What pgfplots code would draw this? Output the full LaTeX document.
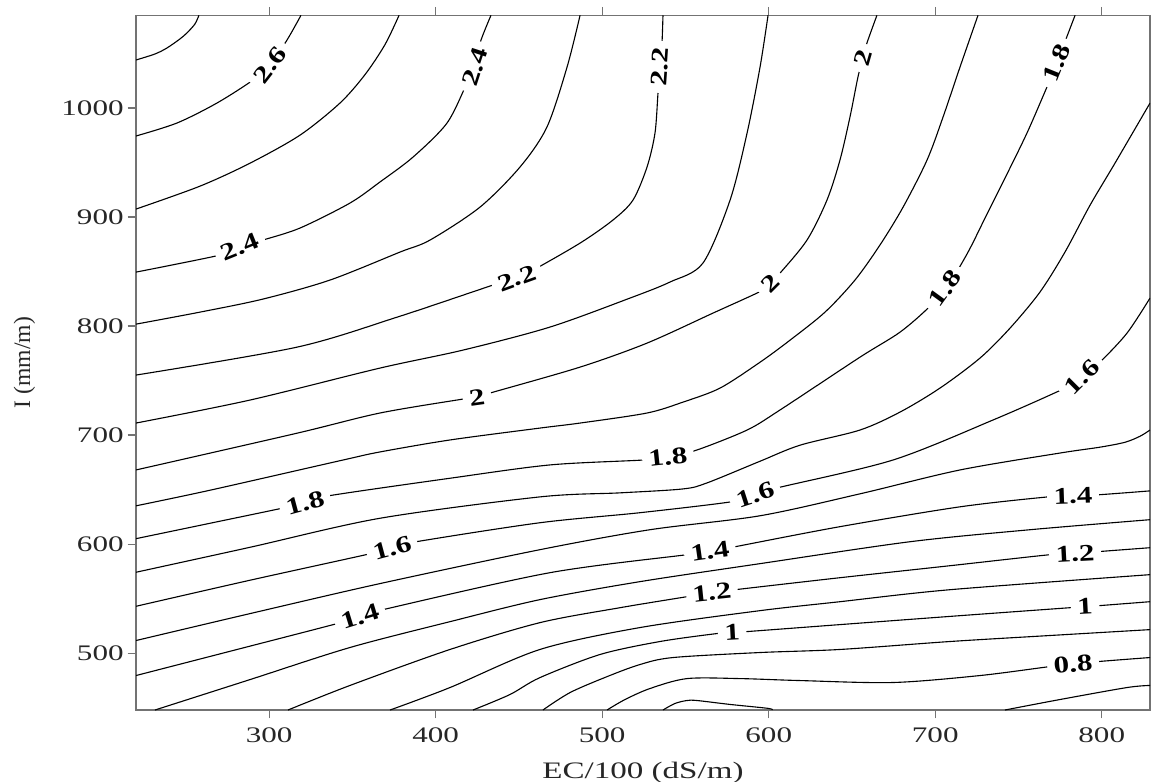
\documentclass[border=0pt]{standalone}
\usepackage{fontspec}
\setmainfont{Liberation Serif}
\usepackage{pgfplots}
\pgfplotsset{compat=1.18}
\definecolor{framegray}{RGB}{115,115,115}
\pgfplotsset{cl/.style={black, line width=0.4pt, smooth, tension=0.5, mark=none}}
\begin{document}
\begin{tikzpicture}
\useasboundingbox (-48.96pt,-25.56pt) rectangle (365.4pt,255.6pt);
\begin{axis}[
  at={(0pt,0pt)}, anchor=south west,
  scale only axis, width=365.04pt, height=250.1pt,
  xmin=220, xmax=829, ymin=448, ymax=1085,
  xtick={300,400,...,800}, ytick={500,600,...,1000},
  minor tick num=0,
  xtick pos=both, ytick pos=left, xticklabel pos=lower,
  tick align=outside, major tick length=3pt,
  axis line style={framegray, line width=0.5pt},
  tick style={framegray, line width=0.5pt},
  /pgf/number format/assume math mode=true,
  /pgf/number format/1000 sep={},
  scaled ticks=false,
  tick label style={font=\fontsize{8}{9}\selectfont, xscale=1.4, text=black!85},
  yticklabel style={xshift=2.5pt},
  xlabel={EC/100 (dS/m)}, ylabel={I (mm/m)},
  label style={font=\fontsize{8.5}{10}\selectfont, text=black!85},
  xlabel style={xscale=1.4},
  every axis y label/.style={at={(axis description cs:-0.11,0.5)}, rotate=90, anchor=center,
     font=\fontsize{8.5}{10}\selectfont, text=black!85},
  clip=true,
]
% 2.7
\addplot[cl] coordinates {(257.8,1085) (255.4,1077) (250.6,1068.8) (246.4,1063.3) (238.6,1055) (231.4,1049.5) (220,1044)};
% 2.6
\addplot[cl] coordinates {(319.1,1085) (310.7,1062.3) (300.5,1039.4) (290.3,1025.6) (268.6,1004.5) (244.6,986.2) (220,974.3)};
% 2.5
\addplot[cl] coordinates {(378,1085) (369.5,1058) (357.5,1030.5) (342.5,1004.5) (318.5,975.1) (288.5,949.4) (258.4,928.3) (220,907.3)};
% 2.4
\addplot[cl] coordinates {(433.2,1085) (426.6,1059.6) (423.6,1037.6) (418.8,1022.9) (406.8,986.2) (386.4,955) (366.5,932.1) (348.5,912.8) (318.5,889.9) (296.3,878.9) (282.5,872.4) (270.4,865.1) (220,849.5)};
% 2.3
\addplot[cl] coordinates {(486.7,1085) (478.9,1037.6) (466.8,982.5) (450.6,945.8) (426.6,909.1) (396.6,878.9) (378.6,867.9) (336.5,842.2) (296.3,824.8) (258.4,812.8) (220,801.8)};
% 2.2
\addplot[cl] coordinates {(536.5,1085) (535.9,1059.6) (534.7,1037.6) (533.5,1013.7) (531.7,977) (526.9,945.8) (518.5,915.6) (506.5,897.3) (486.7,876.1) (458.4,851.2) (448.8,844) (434.4,837.6) (376.8,808.2) (316.7,780.7) (220,755.1)};
% 2.1
\addplot[cl] coordinates {(599.6,1085) (594.8,1037.6) (587,977) (576.8,915.6) (560.5,857.8) (540.7,840.4) (516.7,825.7) (468.6,799.1) (416.4,778) (366.5,761.5) (288.5,732.2) (220,711.1)};
% 2.0
\addplot[cl] coordinates {(665,1085) (659,1059.6) (656.6,1045.8) (653.6,1028.4) (648.8,991.7) (642.8,952.3) (635,915.6) (623,878.9) (606.8,848.6) (600.8,839.4) (596.6,833) (566.5,811.9) (526.9,784.4) (486.7,762.4) (432.6,738.6) (424.8,734.9) (416.4,733.1) (366.5,720.3) (316.7,701.8) (220,668.1)};
% 1.9
\addplot[cl] coordinates {(725.7,1085) (714.9,1037.6) (704.7,991.7) (695.1,952.3) (680.7,909.1) (666.8,874.3) (651.8,842.2) (633.8,812.8) (612.8,787.1) (594.8,766.9) (570.8,743.2) (548.5,730.3) (526.9,720.3) (486.7,711.1) (462.6,706.5) (408.6,695.6) (366.5,684.6) (344.3,677.2) (264.4,649.5) (220,635.2)};
% 1.8
\addplot[cl] coordinates {(220,605.1) (264.4,619.2) (307.7,633) (321.5,638) (335.3,644.3) (408.6,660.5) (468.6,672.7) (524.5,677.2) (539.5,680) (556.9,686.4) (587,704.7) (606.8,723.1) (654.8,771.5) (678.9,794.5) (696.9,818.3) (708.9,840.3) (719.7,867.8) (729.9,899) (741.9,935.7) (755.1,977) (767.1,1019.2) (773.1,1041.2) (776.7,1055.9) (784,1085)};
% 1.7
\addplot[cl] coordinates {(220,574.3) (288.5,597.2) (366.5,623.8) (462.6,643.4) (510.7,647.1) (548.5,650.7) (562.9,656.2) (594.8,676.1) (618.8,690.8) (654.8,704.7) (678.9,721.2) (702.9,743.2) (726.9,770.7) (744.9,798.1) (762.9,831.2) (777.9,867.8) (793,910.9) (808,949.5) (829,1004.5)};
% 1.6
\addplot[cl] coordinates {(220,543.1) (288.5,567) (359.3,590.8) (373.8,596.3) (386.4,601.8) (462.6,619.7) (522.7,628.9) (578,639) (591.8,645.3) (605,651.6) (674.6,677.2) (734.7,713.9) (777.9,743.1) (788.2,753.2) (799,767) (815.2,793.6) (829,825.7)};
% 1.5
\addplot[cl] coordinates {(220,511.7) (288.5,536.4) (366.5,563.9) (462.6,595) (528.7,613.3) (594.8,626.1) (654.8,646.2) (714.9,668.1) (774.9,683.6) (799,689) (814,693.5) (823,699) (829,704.7)};
% 1.4
\addplot[cl] coordinates {(220,479.6) (280.7,503.5) (340.7,527.2) (354.5,533.6) (368.3,540) (468.6,573.9) (550.9,590.4) (564.7,593.2) (579.8,597.7) (642.8,616.1) (714.9,634.3) (767.7,643.4) (782.8,644.3) (797.8,645.3) (829,648.9)};
% 1.3
\addplot[cl] coordinates {(231.4,448) (288.5,475.9) (348.5,505.3) (408.6,529) (462.6,549.2) (522.7,565.7) (594.8,582.2) (684.9,602.3) (756.9,613.3) (829,622.5)};
% 1.2
\addplot[cl] coordinates {(311.3,448) (348.5,470.5) (408.6,503.5) (462.6,528.1) (510.7,541.8) (550.9,551.9) (565.9,555.6) (579.8,558.3) (642.8,569.3) (708.9,580.3) (768.9,590.4) (784,591.3) (797.8,593.2) (829,596.8)};
% 1.1
\addplot[cl] coordinates {(372.6,448) (408.6,468.6) (462.6,503.5) (522.7,523.6) (594.8,539.1) (642.8,547.3) (708.9,558.3) (829,572.1)};
% 1.0
\addplot[cl] coordinates {(422.4,448) (444.6,462.2) (462.6,477.7) (498.7,498.9) (534.7,510.8) (568.9,518.1) (578,519) (587,519.9) (642.8,526.3) (714.9,534.5) (781,541.8) (790,542.7) (797.8,543.6) (829,547.3)};
% 0.9
\addplot[cl] coordinates {(464.4,448) (480.7,464) (502.9,478.6) (522.7,489.7) (542.5,496.1) (594.8,500.7) (642.8,503.5) (708.9,510.8) (768.9,516.3) (829,521.7)};
% 0.8
\addplot[cl] coordinates {(502.9,448) (513.7,457.6) (528.7,467.7) (550.9,476.8) (582.8,476.8) (618.8,475) (674.6,473.2) (726.9,479.6) (768.9,487.8) (782.8,489.7) (797.8,492.4) (829,496.1)};
% 0.7
\addplot[cl] coordinates {(536.5,448) (543.7,454) (550.9,456.7) (556.9,456.7) (576.8,453.1) (599.6,449.5) (602,448)};
\addplot[cl] coordinates {(741.9,448) (774.9,457.6) (815.2,468.6) (829,470.5)};
% contour labels
\addplot[draw=none, mark=none, nodes near coords, point meta=explicit symbolic,
  visualization depends on={\thisrow{a} \as \ang},
  every node near coord/.append style={anchor=center, rotate=\ang, xscale=1.3,
     fill=white, inner xsep=1.8pt, inner ysep=0.4pt, text=black,
     font=\fontsize{8.6}{9}\selectfont\bfseries}]
  table[meta=t] {
x y t a
300.5 1039.4 2.6 52
423.6 1037.6 2.4 72
534.7 1037.6 2.2 86
656.6 1045.8 2 74
773.1 1041.2 1.8 68
282.5 872.4 2.4 22
448.8 844.0 2.2 20
600.8 839.4 2 45
705.9 834.5 1.8 54
788.2 753.2 1.6 45
424.8 734.9 2 8
539.5 680.0 1.8 6
321.5 638.0 1.8 15
373.8 596.3 1.6 15
354.5 533.6 1.4 17
591.8 645.3 1.6 18
564.7 593.2 1.4 8
565.9 555.6 1.2 6
578.0 519.0 1 3
782.8 644.3 1.4 2
784.0 591.3 1.2 3
790.0 542.7 1 3
782.8 489.7 0.8 5
};
\end{axis}
\end{tikzpicture}
\end{document}
